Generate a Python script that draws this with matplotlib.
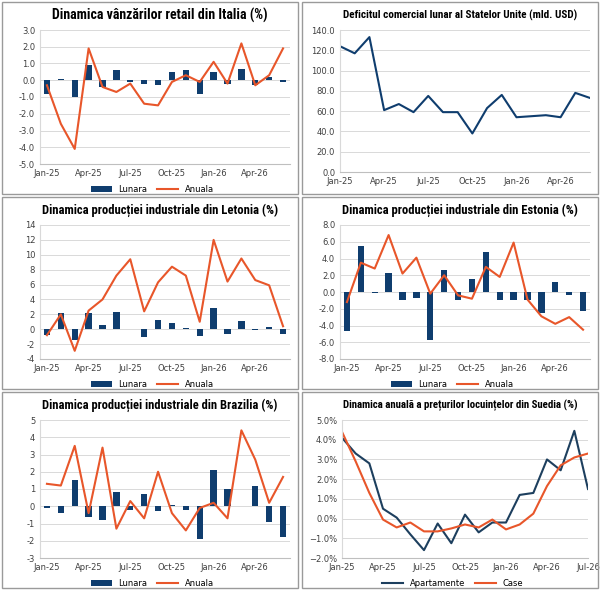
import matplotlib
matplotlib.use("Agg")
import matplotlib.pyplot as plt
from matplotlib.patches import Rectangle
from matplotlib.ticker import FormatStrFormatter, PercentFormatter

months = ["Jan-25", "Feb-25", "Mar-25", "Apr-25", "May-25", "Jun-25", "Jul-25", "Aug-25", "Sep-25",
          "Oct-25", "Nov-25", "Dec-25", "Jan-26", "Feb-26", "Mar-26", "Apr-26", "May-26", "Jun-26", "Jul-26"]

italia_lunara = [-0.8, 0.05, -1.0, 0.9, -0.4, 0.6, -0.1, -0.2, -0.3, 0.5, 0.6, -0.8, 0.5, -0.2, 0.7, -0.3, 0.2, -0.1]
italia_anuala = [-0.3, -2.6, -4.1, 1.9, -0.4, -0.7, -0.2, -1.4, -1.5, -0.1, 0.3, -0.1, 1.1, -0.2, 2.2, -0.3, 0.3, 1.9]

sua_deficit = [124, 117, 133, 61, 67, 59, 75, 59, 59, 38, 63, 76, 54, 55, 56, 54, 78, 73]

letonia_lunara = [-0.8, 2.2, -1.4, 2.2, 0.6, 2.3, 0.0, -1.1, 1.3, 0.9, 0.15, -0.9, 2.8, -0.7, 1.1, -0.1, 0.3, -0.7]
letonia_anuala = [-0.8, 2.0, -2.9, 2.5, 4.0, 7.2, 9.4, 2.4, 6.3, 8.4, 7.2, 1.0, 12.0, 6.4, 9.5, 6.6, 5.9, 0.4]

estonia_lunara = [-4.7, 5.5, -0.1, 2.3, -1.0, -0.7, -5.7, 2.6, -0.9, 1.5, 4.8, -1.0, -0.9, -0.9, -2.5, 1.2, -0.3, -2.3]
estonia_anuala = [-1.2, 3.5, 2.8, 6.8, 2.2, 4.1, -0.2, 2.0, -0.4, -0.8, 3.0, 1.8, 5.9, -0.9, -2.9, -3.8, -3.0, -4.5]

brazilia_lunara = [-0.1, -0.4, 1.5, -0.6, -0.8, 0.8, -0.2, 0.7, -0.3, 0.05, -0.2, -1.9, 2.1, 1.0, 0.0, 1.2, -0.9, -1.8]
brazilia_anuala = [1.3, 1.2, 3.5, -0.4, 3.4, -1.3, 0.3, -0.7, 2.0, -0.4, -1.4, -0.1, 0.2, -0.7, 4.4, 2.7, 0.2, 1.7]

suedia_apartamente = [4.1, 3.3, 2.8, 0.5, 0.05, -0.8, -1.6, -0.25, -1.25, 0.2, -0.7, -0.2, -0.2, 1.2, 1.3, 3.0, 2.45, 4.45, 1.5]
suedia_case = [4.4, 2.9, 1.3, -0.05, -0.45, -0.2, -0.65, -0.65, -0.5, -0.3, -0.45, -0.05, -0.55, -0.3, 0.25, 1.65, 2.7, 3.1, 3.3]

NAVY = "#0f3d6e"
ORANGE = "#e8562a"
TITLE_FAMILY = ["Liberation Sans Narrow", "Roboto Condensed", "Roboto", "DejaVu Sans"]

W, H = 600, 590
fig = plt.figure(figsize=(6, 5.9), dpi=100)

# panel boxes in pixels (x, y_top, w, h)
panels = [(2, 2, 296, 192), (302, 2, 296, 192),
          (2, 197, 296, 192), (302, 197, 296, 192),
          (2, 392, 296, 196), (302, 392, 296, 196)]
titles = []


def make_axes(i, left=38, right=8, top=28, bottom=30):
    px, py, pw, ph = panels[i]
    fig.patches.append(Rectangle((px / W, 1 - (py + ph) / H), pw / W, ph / H,
                                 transform=fig.transFigure, fill=False,
                                 edgecolor="#9a9a9a", linewidth=1.0))
    ax = fig.add_axes([(px + left) / W, 1 - (py + ph - bottom) / H,
                       (pw - left - right) / W, (ph - top - bottom) / H])
    ax.set_axisbelow(True)
    ax.grid(axis="y", color="#d9d9d9", linewidth=0.7)
    for s in ["top", "right"]:
        ax.spines[s].set_visible(False)
    ax.spines["bottom"].set_color("#bfbfbf")
    ax.spines["left"].set_color("#d9d9d9")
    ax.tick_params(labelsize=6, colors="#404040", length=0)
    return ax


def title(i, txt):
    px, py, pw, ph = panels[i]
    t = fig.text((px + pw / 2 + 10) / W, 1 - (py + 13) / H, txt, ha="center", va="center",
                 family=TITLE_FAMILY, weight="bold", size=10)
    titles.append((t, pw - 60))


def legend(ax, handles, labels):
    ax.legend(handles, labels, loc="upper center", bbox_to_anchor=(0.45, -0.1), ncol=2,
              frameon=False, fontsize=6, handlelength=2.5, columnspacing=1.2)


def bar_line(i, ttl, lun, anu, ylim, step, fmt):
    ax = make_axes(i)
    title(i, ttl)
    x = list(range(len(lun)))
    b = ax.bar(x, lun, width=0.45, color=NAVY)
    l, = ax.plot(x, anu, color=ORANGE, linewidth=1.5)
    ax.set_xlim(-0.5, len(lun) - 0.5)
    ax.set_ylim(*ylim)
    ticks = []
    v = ylim[0]
    while v <= ylim[1] + 1e-9:
        ticks.append(v)
        v += step
    ax.set_yticks(ticks)
    ax.yaxis.set_major_formatter(FormatStrFormatter(fmt))
    ax.set_xticks(x[::3])
    ax.set_xticklabels(months[:len(lun):3])
    legend(ax, [b, l], ["Lunara", "Anuala"])
    return ax


bar_line(0, "Dinamica vânzărilor retail din Italia (%)", italia_lunara, italia_anuala, (-5, 3), 1, "%.1f")

ax = make_axes(1, bottom=22)
title(1, "Deficitul comercial lunar al Statelor Unite (mld. USD)")
ax.plot(range(len(sua_deficit)), sua_deficit, color=NAVY, linewidth=1.5)
ax.set_xlim(0, len(sua_deficit) - 1)
ax.set_ylim(0, 140)
ax.set_yticks(range(0, 141, 20))
ax.yaxis.set_major_formatter(FormatStrFormatter("%.1f"))
ax.set_xticks(range(0, len(sua_deficit), 3))
ax.set_xticklabels(months[:len(sua_deficit):3])

bar_line(2, "Dinamica producției industriale din Letonia (%)", letonia_lunara, letonia_anuala, (-4, 14), 2, "%d")
bar_line(3, "Dinamica producției industriale din Estonia (%)", estonia_lunara, estonia_anuala, (-8, 8), 2, "%.1f")
bar_line(4, "Dinamica producției industriale din Brazilia (%)", brazilia_lunara, brazilia_anuala, (-3, 5), 1, "%d")

ax = make_axes(5, left=40, right=10)
title(5, "Dinamica anuală a prețurilor locuințelor din Suedia (%)")
xs = range(len(suedia_case))
la, = ax.plot(xs, suedia_apartamente, color="#1d3f5e", linewidth=1.5)
lc, = ax.plot(xs, suedia_case, color=ORANGE, linewidth=1.5)
ax.set_xlim(0, len(suedia_case) - 1)
ax.set_ylim(-2, 5)
ax.set_yticks(range(-2, 6))
ax.yaxis.set_major_formatter(PercentFormatter(decimals=1))
ax.set_xticks(range(0, len(suedia_case), 3))
ax.set_xticklabels(months[::3])
legend(ax, [la, lc], ["Apartamente", "Case"])

# shrink titles that are wider than their panel
fig.canvas.draw()
renderer = fig.canvas.get_renderer()
for t, maxw in titles:
    w = t.get_window_extent(renderer).width
    if w > maxw:
        t.set_fontsize(10 * maxw / w)

fig.savefig("out.png", dpi=100)
